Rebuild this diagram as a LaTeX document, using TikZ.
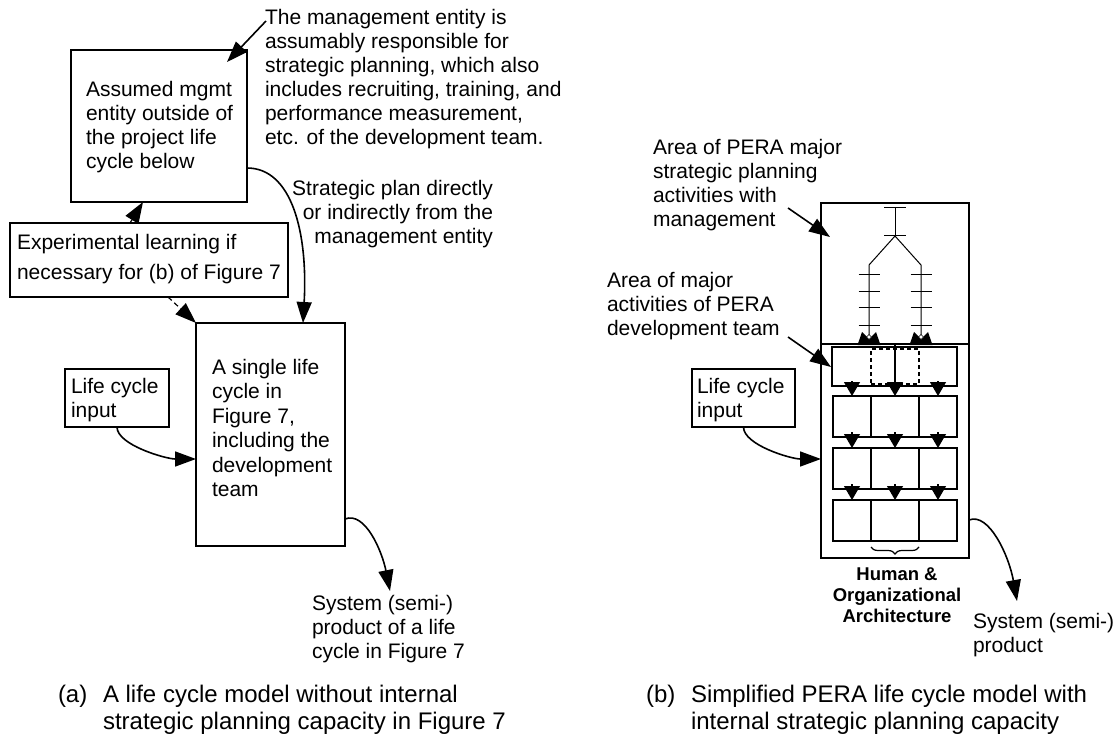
\documentclass[tikz,border=0pt]{standalone}
\usepackage{fontspec}
\setmainfont{Liberation Sans}
\usetikzlibrary{arrows.meta,decorations.pathreplacing}

\begin{document}
\begin{tikzpicture}[x=1pt,y=-1pt,
  every node/.style={inner sep=0pt, outer sep=0pt},
  % text blocks are placed by the baseline of their last line
  txt/.style={font=\fontsize{21}{24}\selectfont, align=left, anchor=base west},
  captext/.style={font=\fontsize{24}{27}\selectfont, align=left, anchor=base west},
  box/.style={draw, line width=1.6pt},
  bigtip/.style={-{Triangle[length=21pt,width=15pt]}},
  link/.style={line width=1.6pt, bigtip},
  dlink/.style={line width=1.2pt, dash pattern=on 5pt off 3.5pt, bigtip},
  cell/.style={draw, line width=1.2pt},
  flow/.style={line width=1.2pt, -{Triangle[length=14pt,width=16pt]}},
  treeline/.style={line width=1pt},
]
\fill[white] (0,0) rectangle (1119,735);
\useasboundingbox (0,0) rectangle (1119,735);

% ---------------- (a) life cycle without internal strategic planning
\node[box, minimum width=176pt, minimum height=152pt] (mgmt) at (159,126) {};
\node[txt] (mgmttext) at (86,169) {Assumed mgmt\\entity outside of\\the project life\\cycle below};

\node[txt] (annot) at (265,145) {The management entity is\\assumably responsible for\\strategic planning, which also\\includes recruiting, training, and\\performance measurement,\\etc. of the development team.};
\coordinate (annotfrom) at (266,21);
\coordinate (annotto) at (227,62);

\node[txt, align=right, anchor=base east] (strat) at (493,244) {Strategic plan directly\\or indirectly from the\\management entity};

\node[box, minimum width=278pt, minimum height=74pt] (exp) at (149,260) {};
\node[txt, font=\fontsize{21}{30}\selectfont] (exptext) at (17,280) {Experimental learning if\\necessary for (b) of Figure 7};

\node[box, minimum width=149pt, minimum height=223pt] (life) at (270.5,434.5) {};
\node[txt, font=\fontsize{21}{24.5}\selectfont] (lifetext) at (212,496.5) {A single life\\cycle in\\Figure 7,\\including the\\development\\team};

\node[box, minimum width=104pt, minimum height=58pt] (inA) at (117,398) {};
\node[txt] (inAtext) at (71,417) {Life cycle\\input};

\node[txt] (sysA) at (312,658) {System (semi-)\\product of a life\\cycle in Figure 7};
\coordinate (sysAtip) at (390,591);

\draw[link] (annotfrom) -- (annotto);
\draw[link] ([yshift=-42pt]mgmt.east) .. controls +(45,0) and +(5,-90) .. ([xshift=32.5pt]life.north);
\draw[dlink] ([xshift=-19pt]exp.north) -- ([xshift=-16pt]mgmt.south);
\draw[dlink] ([xshift=19pt]exp.south) -- (life.north west);
\draw[link] (inA.south) .. controls +(0,18) and +(-30,0) .. ([yshift=-24.5pt]life.west);
\draw[link] ([yshift=-84.5pt]life.east) .. controls +(20,-8) and +(-8,-40) .. (sysAtip);

\node[captext] (capAtag) at (58,702) {(a)};
\node[captext] (capA) at (103,729) {A life cycle model without internal\\strategic planning capacity in Figure 7};

% ---------------- (b) simplified PERA life cycle
\node[txt] (annotB1) at (653,227) {Area of PERA major\\strategic planning\\activities with\\management};
\node[txt] (annotB2) at (607,335) {Area of major\\activities of PERA\\development team};
\coordinate (b1from) at (788,208);
\coordinate (b1to) at (830,237);
\coordinate (b2from) at (788,337);
\coordinate (b2to) at (831,367);

\node[box, minimum width=148pt, minimum height=355pt] (pera) at (895,380.5) {};
\draw[line width=1.6pt] (820,344) -- (970,344);

% strategic planning tree
\draw[treeline] (884,208) -- (906,208) (895,208) -- (895,236) (884,236) -- (906,236);
\draw[treeline] (895,236) -- (869,265) -- (869,338);
\draw[treeline] (895,236) -- (921,265) -- (921,338);
\foreach \ty in {275,292,308,325} {
  \draw[treeline] (858.5,\ty) -- (879.5,\ty);
  \draw[treeline] (910.5,\ty) -- (931.5,\ty);
}
\foreach \cx in {869,921} {
  \fill (\cx-11.5,345) -- (\cx-7,332) -- (\cx,339) -- (\cx+7,332) -- (\cx+11.5,345) -- cycle;
  \filldraw[fill=white, draw=black, line width=0.6pt] (\cx,334.5) -- (\cx+2.5,337) -- (\cx,339.5) -- (\cx-2.5,337) -- cycle;
}

% development team rows
\node[cell, minimum width=125pt, minimum height=39pt] (r1) at (894.5,366.5) {};
\node[cell, dash pattern=on 4pt off 3pt, minimum width=48pt, minimum height=35pt] (r1m) at (895,366.5) {};
\foreach \r/\cy in {2/416.5,3/468.5,4/520.5} {
  \node[cell, minimum width=38pt, minimum height=41pt] (r\r c1) at (852,\cy) {};
  \node[cell, minimum width=48pt, minimum height=41pt] (r\r c2) at (895,\cy) {};
  \node[cell, minimum width=38pt, minimum height=41pt] (r\r c3) at (938,\cy) {};
}
\draw[flow] ([yshift=5pt]r2c1.north |- r1.south) -- (r2c1.north);
\draw[flow] (895,344) -- (r2c2.north);
\draw[flow] ([yshift=5pt]r2c3.north |- r1.south) -- (r2c3.north);
\foreach \c in {1,2,3} {
  \draw[flow] ([yshift=5pt]r2c\c.south) -- (r3c\c.north);
  \draw[flow] ([yshift=5pt]r3c\c.south) -- (r4c\c.north);
}

\draw[line width=1.2pt, decorate, decoration={brace, amplitude=7pt}] ([yshift=-6pt]r4c2.south east) -- ([yshift=-6pt]r4c2.south west);
\node[font=\bfseries\fontsize{18.5}{21}\selectfont, align=center, anchor=base] (hoa) at (897,622) {Human \&\\Organizational\\Architecture};

\node[box, minimum width=103pt, minimum height=58pt] (inB) at (743.5,398) {};
\node[txt] (inBtext) at (697,417) {Life cycle\\input};

\node[txt] (sysB) at (973,652) {System (semi-)\\product};
\coordinate (sysBtip) at (1017,601);

\draw[link] (b1from) -- (b1to);
\draw[link] (b2from) -- (b2to);
\draw[link] (inB.south) .. controls +(0,18) and +(-30,0) .. ([yshift=-78.5pt]pera.west);
\draw[link] ([yshift=-139.5pt]pera.east) .. controls +(20,-8) and +(-8,-45) .. (sysBtip);

\node[captext] (capBtag) at (646,702) {(b)};
\node[captext] (capB) at (691,729) {Simplified PERA life cycle model with\\internal strategic planning capacity};
\end{tikzpicture}
\end{document}
